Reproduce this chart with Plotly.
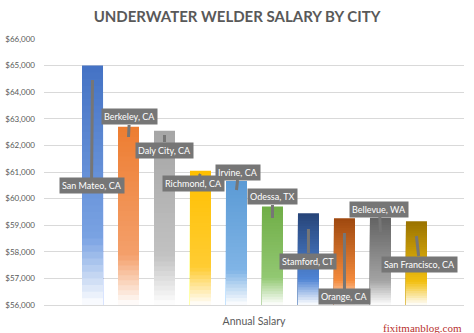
import plotly.graph_objects as go

# ---- data -------------------------------------------------------------
CATEGORY = "Annual Salary"
CITIES = [
    "San Mateo, CA", "Berkeley, CA", "Daly City, CA", "Richmond, CA",
    "Irvine, CA", "Odessa, TX", "Stamford, CT", "Orange, CA",
    "Bellevue, WA", "San Francisco, CA",
]
SALARIES = [65000, 62700, 62550, 61050, 60660, 59700, 59450, 59260, 59280, 59150]
Y_TICKS = [56000, 57000, 58000, 59000, 60000, 61000, 62000, 63000, 64000, 65000, 66000]
Y_TICK_LABELS = ["$56,000", "$57,000", "$58,000", "$59,000", "$60,000", "$61,000",
                 "$62,000", "$63,000", "$64,000", "$65,000", "$66,000"]

# ---- styling ----------------------------------------------------------
# (top colour, lighter colour near the bottom) for each series' gradient
GRADIENTS = [
    ("#4472C4", "#7aa3e3"),
    ("#ED7D31", "#f4a06b"),
    ("#A5A5A5", "#c2c2c2"),
    ("#FFC000", "#FFCC33"),
    ("#5B9BD5", "#80b4e6"),
    ("#70AD47", "#92c872"),
    ("#264478", "#4f84d4"),
    ("#9E480E", "#f48b3d"),
    ("#636363", "#a3a3a3"),
    ("#997300", "#f2bf10"),
]
# callout placement: (tip value on the bar, label offset x px, label offset y px)
CALLOUTS = [
    (64460, -1, 106),
    (62316, 1, -20),
    (62391, 0, 15),
    (60925, -7, 10),
    (60323, 2, -18),
    (59271, 0, -21),
    (58857, 0, 32),
    (58707, 0, 64),
    (58744, -1, -23),
    (58594, 3, 28),
]
TEXT_GREY = "#595959"
GRID_GREY = "#d9d9d9"
CALLOUT_GREY = "#767676"
FONT = "Lato"

N_LAYERS = 36
GROUP_START = -0.4095   # left edge of the first bar, in category units
SLOT = 0.0857           # distance between neighbouring bars
BAR_W = 0.05            # bar width


def hex_rgb(h):
    h = h.lstrip("#")
    return [int(h[i:i + 2], 16) for i in (0, 2, 4)]


def gradient_colour(top, mid, t, mid_at=0.72):
    a, b, w = hex_rgb(top), hex_rgb(mid), [255, 255, 255]
    if t <= mid_at:
        f = t / mid_at
        c = [a[i] + (b[i] - a[i]) * f for i in range(3)]
    else:
        f = (t - mid_at) / (1 - mid_at)
        c = [b[i] + (w[i] - b[i]) * f for i in range(3)]
    return "rgb(%d,%d,%d)" % tuple(round(v) for v in c)


axis_floor = Y_TICKS[0]
fig = go.Figure()

for i, (city, value) in enumerate(zip(CITIES, SALARIES)):
    top, mid = GRADIENTS[i]
    offset = GROUP_START + i * SLOT
    # stacked, progressively shorter layers build the top-to-white fade
    for k in range(N_LAYERS):
        frac = k / N_LAYERS
        height = axis_floor + (value - axis_floor) * (1 - frac)
        fig.add_trace(go.Bar(
            x=[CATEGORY], y=[height if k else value],
            offset=offset, width=BAR_W,
            marker=dict(color=gradient_colour(top, mid, frac + 0.5 / N_LAYERS), line_width=0),
            name=city, showlegend=False, hoverinfo="skip",
        ))

for i, city in enumerate(CITIES):
    tip_value, dx, dy = CALLOUTS[i]
    centre = GROUP_START + i * SLOT + BAR_W / 2
    fig.add_annotation(
        x=centre, y=tip_value, xref="x", yref="y",
        ax=dx, ay=dy, text=city, showarrow=True,
        arrowhead=0, arrowwidth=3, arrowcolor=CALLOUT_GREY,
        standoff=0, startstandoff=0,
        bgcolor=CALLOUT_GREY, borderpad=2,
        font=dict(family=FONT, size=9, color="white"),
    )

fig.add_annotation(
    text="fixitmanblog.com", xref="paper", yref="paper",
    x=1.0, y=-0.055, xanchor="right", yanchor="top", showarrow=False,
    font=dict(family="Liberation Serif", size=11, color="#b8302e"),
)

fig.update_layout(
    width=474, height=333,
    margin=dict(l=44, r=10, t=39, b=28),
    paper_bgcolor="white", plot_bgcolor="white",
    barmode="overlay",
    title=dict(
        text="<b>UNDERWATER WELDER SALARY BY CITY</b>",
        x=0.5, xanchor="center", y=1 - 17 / 333, yanchor="middle",
        font=dict(family=FONT, size=15, color=TEXT_GREY),
    ),
    xaxis=dict(
        type="category", range=[-0.5, 0.5], automargin=False,
        showline=True, linecolor=GRID_GREY, linewidth=1,
        showgrid=False, ticks="", ticklabelstandoff=6,
        tickfont=dict(family=FONT, size=10.5, color=TEXT_GREY),
    ),
    yaxis=dict(
        range=[Y_TICKS[0], Y_TICKS[-1]], tickmode="array", automargin=False,
        tickvals=Y_TICKS, ticktext=Y_TICK_LABELS,
        showgrid=True, gridcolor=GRID_GREY, gridwidth=1,
        zeroline=False, ticks="", ticklabelstandoff=8,
        tickfont=dict(family=FONT, size=8, color=TEXT_GREY),
    ),
)

fig.write_html("out.html")
